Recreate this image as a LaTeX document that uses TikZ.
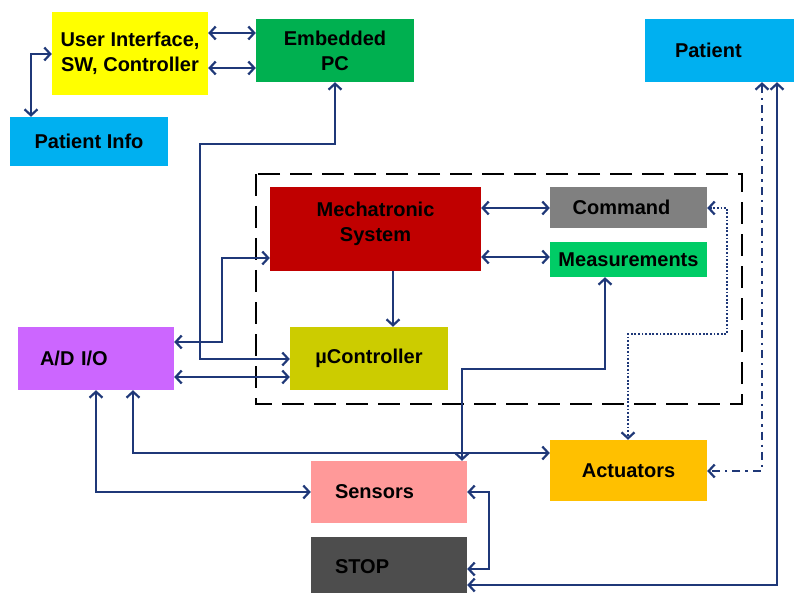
\documentclass[tikz,border=0pt]{standalone}
\usepackage{fontspec}
\setmainfont{Liberation Sans}
\usetikzlibrary{arrows.meta}
\definecolor{arrblue}{RGB}{31,56,120}
\definecolor{uiyellow}{RGB}{255,255,0}
\definecolor{epcgreen}{RGB}{0,176,80}
\definecolor{skyblue}{RGB}{0,176,240}
\definecolor{mechred}{RGB}{192,0,0}
\definecolor{cmdgray}{RGB}{128,128,128}
\definecolor{measgreen}{RGB}{0,204,102}
\definecolor{ucolive}{RGB}{204,204,0}
\definecolor{adviolet}{RGB}{204,102,255}
\definecolor{senspink}{RGB}{255,153,153}
\definecolor{stopgray}{RGB}{77,77,77}
\definecolor{actorange}{RGB}{255,192,0}
\tikzset{
  blk/.style={draw=none, inner sep=0pt, align=center,
    font=\fontsize{20}{25}\selectfont\bfseries},
  lblk/.style={blk, align=left},
  tip/.style={},
  conn/.style={draw=arrblue, line width=2.4pt,
    arrows={Straight Barb[length=6pt,width=13pt,line width=2.2pt]-Straight Barb[length=6pt,width=13pt,line width=2.2pt]}},
  oneway/.style={draw=arrblue, line width=2.4pt,
    arrows={-Straight Barb[length=6pt,width=13pt,line width=2.2pt]}},
  dotconn/.style={conn, line width=2pt, dash pattern=on 1.8pt off 1.8pt},
  dashdotconn/.style={conn, dash pattern=on 8pt off 5pt on 2.4pt off 5pt},
  groupbox/.style={draw=black, line width=2.6pt, dash pattern=on 22pt off 10pt}
}
\begin{document}
\begin{tikzpicture}[x=1pt,y=-1pt]
\useasboundingbox (0,0) rectangle (794,593);
% group box
\draw[groupbox] (256,174) rectangle (742,404);
% blocks
\node[blk, fill=uiyellow, minimum width=156pt, minimum height=83pt] (ui) at (130,53.5) {User Interface,\\SW, Controller};
\node[blk, fill=epcgreen, minimum width=158pt, minimum height=63pt] (epc) at (335,50.5) {Embedded\\PC};
\node[blk, fill=skyblue, minimum width=158pt, minimum height=49pt] (pinfo) at (89,141.5) {Patient Info};
\node[lblk, fill=skyblue, text width=89pt, inner xsep=30pt, minimum height=63pt] (pat) at (719.5,50.5) {Patient};
\node[blk, fill=mechred, minimum width=211pt, minimum height=84pt] (mech) at (375.5,229) {Mechatronic\\System\rule[-14pt]{0pt}{0pt}};
\node[blk, fill=cmdgray, minimum width=157pt, minimum height=41pt] (cmd) at (628.5,207.5) {\hspace*{-14pt}Command};
\node[blk, fill=measgreen, minimum width=157pt, minimum height=35pt] (meas) at (628.5,259.5) {Measurements};
\node[blk, fill=ucolive, minimum width=158pt, minimum height=63pt] (uc) at (369,358.5) {µController};
\node[lblk, fill=adviolet, text width=112pt, inner xsep=22pt, minimum height=63pt] (adio) at (96,358.5) {A/D I/O};
\node[lblk, fill=senspink, text width=108pt, inner xsep=24pt, minimum height=62pt] (sens) at (389,492) {Sensors};
\node[lblk, fill=stopgray, text width=108pt, inner xsep=24pt, minimum height=60pt] (stop) at (389,567) {STOP};
\node[blk, fill=actorange, minimum width=157pt, minimum height=61pt] (act) at (628.5,470.5) {Actuators};
% connectors
\draw[conn] (ui.east |- 0,33) -- (epc.west |- 0,33);
\draw[conn] (ui.east |- 0,68) -- (epc.west |- 0,68);
\draw[conn] (pinfo.north -| 31,0) |- (ui.west |- 0,54);
\draw[conn] (epc.south -| 335,0) |- (200,144) |- (uc.west |- 0,359);
\draw[conn] (mech.west |- 0,258) -| (222,342) -- (adio.east |- 0,342);
\draw[conn] (adio.east |- 0,377) -- (uc.west |- 0,377);
\draw[oneway] (mech.south -| 393,0) -- (uc.north -| 393,0);
\draw[conn] (mech.east |- 0,208) -- (cmd.west |- 0,208);
\draw[conn] (mech.east |- 0,257) -- (meas.west |- 0,257);
\draw[conn] (meas.south -| 605,0) |- (462,369) -- (sens.north -| 462,0);
\draw[dotconn] (cmd.east |- 0,208) -| (727,334) -| (act.north -| 628,0);
\draw[conn] (adio.south -| 96,0) |- (sens.west |- 0,492);
\draw[conn] (adio.south -| 133,0) |- (act.west |- 0,453);
\draw[conn] (sens.east |- 0,492) -| (489,569) -- (stop.east |- 0,569);
\draw[conn] (pat.south -| 777,0) |- (stop.east |- 0,585);
\draw[dashdotconn] (pat.south -| 762,0) |- (act.east |- 0,471);
\end{tikzpicture}
\end{document}
